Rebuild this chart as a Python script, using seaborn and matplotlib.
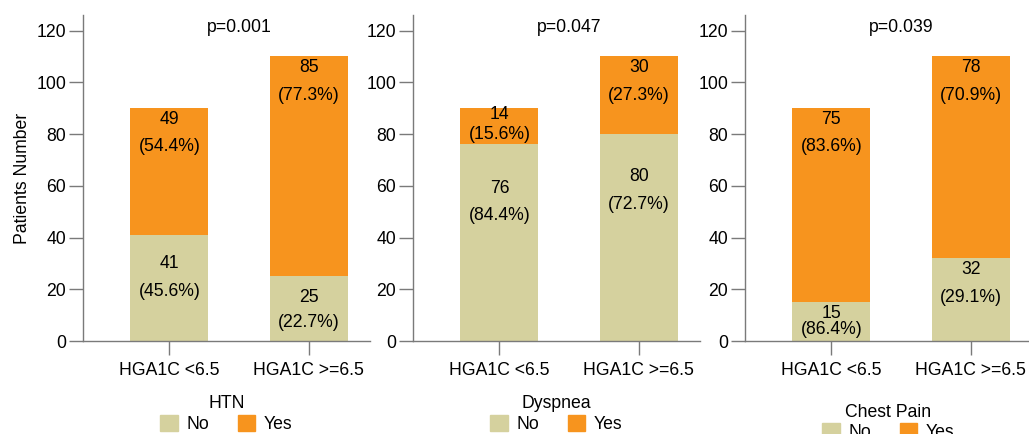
import matplotlib
matplotlib.use("Agg")
import matplotlib.pyplot as plt
import matplotlib.patches as mpatches
import seaborn as sns
import pandas as pd

# ---- data ----
groups = ["HGA1C <6.5", "HGA1C >=6.5"]
panels = ["HTN", "Dyspnea", "Chest Pain"]
p_values = ["p=0.001", "p=0.047", "p=0.039"]
no_counts = [[41, 25], [76, 80], [15, 32]]
yes_counts = [[49, 85], [14, 30], [75, 78]]
no_pct = [["(45.6%)", "(22.7%)"], ["(84.4%)", "(72.7%)"], ["(86.4%)", "(29.1%)"]]
yes_pct = [["(54.4%)", "(77.3%)"], ["(15.6%)", "(27.3%)"], ["(83.6%)", "(70.9%)"]]
yticks = [0, 20, 40, 60, 80, 100, 120]

# ---- styling / layout ----
C_NO = "#D5D19E"
C_YES = "#F7941E"
SPINE = "#7a7a7a"
FS = 12.7
# label offsets below segment top: (count, pct)
no_off = [[(11, 22), (8, 18)], [(17, 27.6), (16.5, 27.3)], [(4.2, 10.4), (4.5, 15)]]
yes_off = [[(4.5, 15), (4.3, 15.2)], [(2.5, 10.3), (4.3, 15.2)], [(4.5, 15), (4.3, 15.2)]]
legend_y = [-0.14, -0.14, -0.165]

sns.set_style("white")
plt.rcParams["font.family"] = ["Liberation Sans", "DejaVu Sans"]
plt.rcParams["font.size"] = FS
plt.rcParams["text.color"] = "black"
plt.rcParams["axes.labelcolor"] = "black"

fig = plt.figure(figsize=(10.29, 4.34), dpi=100)
lefts = [83 / 1029, 413 / 1029, 745 / 1029]
width = 287 / 1029
bottom = (434 - 341) / 434
height = (341 - 15) / 434

for i, name in enumerate(panels):
    ax = fig.add_axes([lefts[i], bottom, width, height])
    totals = [n + y for n, y in zip(no_counts[i], yes_counts[i])]
    df_tot = pd.DataFrame({"group": groups, "value": totals})
    df_no = pd.DataFrame({"group": groups, "value": no_counts[i]})
    sns.barplot(data=df_tot, x="group", y="value", color=C_YES, width=0.56,
                saturation=1, ax=ax, linewidth=0)
    sns.barplot(data=df_no, x="group", y="value", color=C_NO, width=0.56,
                saturation=1, ax=ax, linewidth=0)
    ax.set_xlim(-0.62, 1.44)
    ax.set_ylim(0, 126)
    ax.set_yticks(yticks)
    ax.set_xlabel("")
    ax.set_ylabel("Patients Number" if i == 0 else "", fontsize=FS, color="black")
    for s in ["top", "right"]:
        ax.spines[s].set_visible(False)
    for s in ["left", "bottom"]:
        ax.spines[s].set_color(SPINE)
        ax.spines[s].set_linewidth(1.0)
    ax.tick_params(axis="both", which="major", bottom=True, left=True, length=10,
                   width=1.0, color=SPINE, labelsize=FS, labelcolor="black",
                   direction="out", pad=2)
    ax.tick_params(axis="x", pad=5)

    for j in range(2):
        ntop = no_counts[i][j]
        ttop = totals[j]
        ax.text(j, ntop - no_off[i][j][0], str(no_counts[i][j]), ha="center", va="center", fontsize=FS)
        ax.text(j, ntop - no_off[i][j][1], no_pct[i][j], ha="center", va="center", fontsize=FS)
        ax.text(j, ttop - yes_off[i][j][0], str(yes_counts[i][j]), ha="center", va="center", fontsize=FS)
        ax.text(j, ttop - yes_off[i][j][1], yes_pct[i][j], ha="center", va="center", fontsize=FS)

    ax.text(0.5, 121, p_values[i], ha="center", va="center", fontsize=FS)

    handles = [mpatches.Patch(color=C_NO, label="No"), mpatches.Patch(color=C_YES, label="Yes")]
    ax.legend(handles=handles, title=name, ncol=2, loc="upper center",
              bbox_to_anchor=(0.5, legend_y[i]), frameon=False, fontsize=FS,
              title_fontsize=FS, handlelength=1.0, handleheight=1.0,
              handletextpad=0.5, columnspacing=1.6, borderpad=0, labelspacing=0.15)

fig.savefig("out.png", dpi=100)
